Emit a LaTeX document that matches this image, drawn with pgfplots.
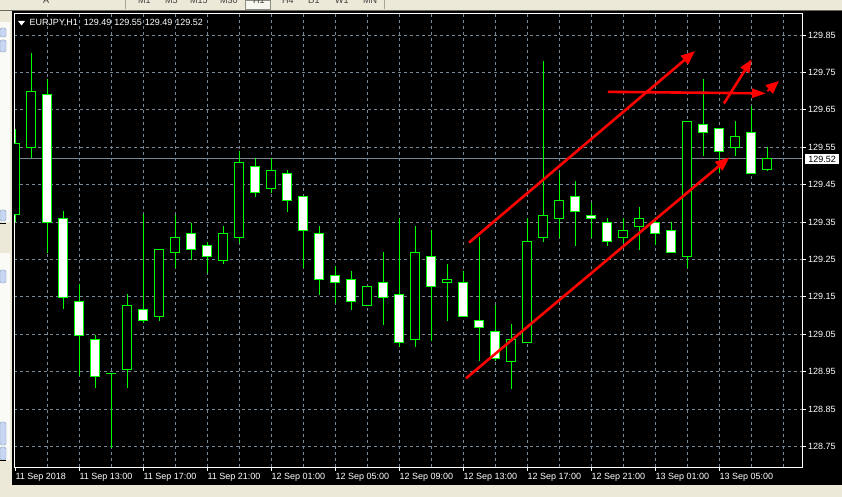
\documentclass[border=0pt]{standalone}
\usepackage{fontspec}
\setmainfont{Liberation Sans}
\usepackage{pgfplots}
\pgfplotsset{compat=1.18}
\usepackage{pgfplotstable}
\usetikzlibrary{arrows.meta}
\definecolor{lime}{RGB}{0,255,0}
\definecolor{gridc}{RGB}{119,136,153}
\definecolor{winbg}{RGB}{236,233,216}
\definecolor{panel}{RGB}{250,250,246}
\definecolor{btn}{RGB}{200,214,243}
\definecolor{btnb}{RGB}{127,157,185}

% bullish (and doji) candles: index open high low close
\pgfplotstableread{
i o h l c
0 129.369 129.600 129.350 129.560
1 129.550 129.803 129.520 129.698
6 128.945 128.947 128.747 128.945
7 128.956 129.157 128.905 129.127
9 129.097 129.277 129.086 129.277
10 129.268 129.369 129.226 129.309
13 129.247 129.339 129.237 129.320
14 129.309 129.540 129.295 129.510
16 129.440 129.520 129.428 129.487
22 129.127 129.178 129.127 129.178
25 129.036 129.339 129.017 129.269
27 129.189 129.238 129.086 129.197
31 128.977 129.077 128.903 129.036
32 129.027 129.360 129.027 129.298
33 129.308 129.780 129.297 129.368
34 129.360 129.480 129.306 129.408
38 129.309 129.360 129.293 129.327
39 129.337 129.391 129.275 129.360
42 129.258 129.619 129.226 129.619
45 129.550 129.620 129.527 129.579
47 129.490 129.550 129.488 129.520
}\bull

% bearish candles
\pgfplotstableread{
i o h l c
2 129.691 129.732 129.268 129.349
3 129.359 129.379 129.117 129.149
4 129.138 129.183 128.938 129.047
5 129.036 129.047 128.905 128.938
8 129.117 129.371 129.080 129.087
11 129.320 129.348 129.248 129.277
12 129.288 129.297 129.213 129.257
15 129.498 129.520 129.418 129.429
17 129.480 129.489 129.378 129.407
18 129.419 129.419 129.226 129.328
19 129.320 129.339 129.155 129.197
20 129.207 129.232 129.133 129.189
21 129.197 129.219 129.115 129.138
23 129.188 129.270 129.075 129.149
24 129.157 129.360 129.017 129.028
26 129.258 129.329 129.033 129.178
28 129.189 129.219 129.098 129.098
29 129.087 129.309 128.977 129.068
30 129.058 129.128 128.977 128.986
35 129.419 129.460 129.287 129.378
36 129.368 129.402 129.306 129.360
37 129.349 129.360 129.287 129.298
40 129.349 129.364 129.289 129.320
41 129.328 129.349 129.269 129.269
43 129.611 129.732 129.527 129.590
44 129.600 129.600 129.480 129.539
46 129.590 129.661 129.480 129.480
}\bear

\begin{document}
\begin{tikzpicture}
% window chrome (pixel (x,y) -> (x-14 pt, 467-y pt))
\fill[winbg] (-14pt,-30pt) rectangle (828pt,467pt);
\fill[black] (-2pt,-18pt) rectangle (828pt,456pt);
\fill[black!55!winbg] (-14pt,455.5pt) rectangle (828pt,457pt);
\fill[panel] (-14pt,245pt) rectangle (-4pt,445pt);
\fill[panel] (-14pt,7pt) rectangle (-4pt,214pt);
\foreach \ya/\yb in {430/439,415/427,246/257,184/197,22/45,7/20}{
  \filldraw[fill=btn,draw=btnb,rounded corners=1.5pt] (-14pt,\ya pt) rectangle (-8pt,\yb pt);}
\draw[black,line width=1pt] (-14pt,243pt) -- (-8pt,243pt);
\draw[black,line width=1pt] (-14pt,6pt) -- (-8pt,6pt);
\fill[white!60!winbg] (231pt,458pt) rectangle (256pt,467pt);
\draw[black!40!winbg] (231pt,458pt) rectangle (256pt,467pt);
\draw[black!30!winbg,line width=1pt] (111pt,458pt) -- (111pt,467pt);
\draw[black!30!winbg,line width=1pt] (370pt,458pt) -- (370pt,467pt);
\foreach \xx/\tt in {124/M1,151/M5,176/M15,206/M30,239/H1,268/H4,294/D1,321/W1,349/MN,29/A}{
  \node[anchor=base west,inner sep=0pt,text=black!75,font=\fontsize{9}{10}\selectfont] at (\xx pt,463.5pt) {\tt};}

\begin{axis}[
  at={(0,0)}, anchor=south west,
  scale only axis, width=788pt, height=453pt,
  xmin=-0.08125, xmax=49.169, ymin=128.6949, ymax=129.9062,
  axis background/.style={fill=black},
  axis line style={white, line width=1pt},
  xtick={0,4,...,44},
  xticklabels={11 Sep 2018,11 Sep 13:00,11 Sep 17:00,11 Sep 21:00,12 Sep 01:00,12 Sep 05:00,12 Sep 09:00,12 Sep 13:00,12 Sep 17:00,12 Sep 21:00,13 Sep 01:00,13 Sep 05:00},
  minor xtick={2,4,...,48},
  ytick={128.75,128.85,128.95,129.05,129.15,129.25,129.35,129.45,129.55,129.65,129.75,129.85},
  xtick pos=bottom, ytick pos=right, yticklabel pos=right,
  tick align=outside, major tick length=4pt, minor tick length=0pt,
  tick style={white, line width=0.8pt},
  xminorgrids=true, ymajorgrids=true, xmajorgrids=false,
  grid style={gridc, dash pattern=on 3pt off 3pt, line width=0.8pt},
  minor grid style={gridc, dash pattern=on 3pt off 3pt, line width=0.8pt},
  ticklabel style={text=white, font=\fontsize{9}{10}\selectfont},
  yticklabel style={anchor=west, inner sep=0pt, xshift=2pt,
    /pgf/number format/fixed, /pgf/number format/fixed zerofill,
    /pgf/number format/precision=2, /pgf/number format/assume math mode=true},
  xticklabel style={anchor=north west, inner sep=0pt, yshift=-2pt, xshift=0pt},
  clip mode=individual,
]
% current price line
\addplot[gridc, line width=1pt, forget plot] coordinates {(-1,129.52) (50,129.52)};
% wicks
\addplot[draw=none, mark=none, forget plot, error bars/.cd, y dir=both, y explicit, error mark=none,
  error bar style={draw=lime, line width=1pt}]
  table[x=i, y=o, y error plus expr=\thisrow{h}-\thisrow{o}, y error minus expr=\thisrow{o}-\thisrow{l}] {\bull};
\addplot[draw=none, mark=none, forget plot, error bars/.cd, y dir=both, y explicit, error mark=none,
  error bar style={draw=lime, line width=1pt}]
  table[x=i, y=o, y error plus expr=\thisrow{h}-\thisrow{o}, y error minus expr=\thisrow{o}-\thisrow{l}] {\bear};
% bodies: outline
\addplot[draw=none, mark=none, forget plot, error bars/.cd, y dir=plus, y explicit, error mark=none,
  error bar style={draw=lime, line width=10pt}]
  table[x=i, y expr=\thisrow{o}-0.00134, y error plus expr=\thisrow{c}-\thisrow{o}+0.00268] {\bull};
\addplot[draw=none, mark=none, forget plot, error bars/.cd, y dir=plus, y explicit, error mark=none,
  error bar style={draw=lime, line width=10pt}]
  table[x=i, y expr=\thisrow{c}-0.00134, y error plus expr=\thisrow{o}-\thisrow{c}+0.00268] {\bear};
% bodies: fill
\addplot[draw=none, mark=none, forget plot, error bars/.cd, y dir=plus, y explicit, error mark=none,
  error bar style={draw=black, line width=8pt}]
  table[x=i, y expr=\thisrow{o}+0.00134, y error plus expr={max(\thisrow{c}-\thisrow{o}-0.00268,0)}] {\bull};
\addplot[draw=none, mark=none, forget plot, error bars/.cd, y dir=plus, y explicit, error mark=none,
  error bar style={draw=white, line width=8pt}]
  table[x=i, y expr=\thisrow{c}+0.00134, y error plus expr={max(\thisrow{o}-\thisrow{c}-0.00268,0)}] {\bear};
% red hand-drawn arrows
\addplot[red, line width=2.6pt, -{Triangle[length=14pt,width=11pt]}, forget plot] coordinates {(28.36,129.295) (42.48,129.807)};
\addplot[red, line width=2.6pt, -{Triangle[length=14pt,width=11pt]}, forget plot] coordinates {(28.17,128.932) (44.63,129.523)};
\addplot[red, line width=2.6pt, -{Triangle[length=14pt,width=9pt]}, forget plot] coordinates {(37.03,129.698) (46.92,129.694)};
\addplot[red, line width=2.6pt, -{Triangle[length=13pt,width=10pt]}, forget plot] coordinates {(44.29,129.667) (46.03,129.785)};
\addplot[red, line width=2pt, -{Triangle[length=13pt,width=11pt]}, forget plot] coordinates {(47.00,129.700) (47.73,129.727)};
\end{axis}

% header
\fill[white] (4pt,446pt) -- (11pt,446pt) -- (7.5pt,441.5pt) -- cycle;
\node[anchor=base west, inner sep=0pt, text=white, font=\fontsize{9}{10}\selectfont] at (15.3pt,441pt)
  {EURJPY,H1\hspace{6pt}129.49\hspace{3pt}129.55\hspace{3pt}129.49\hspace{3pt}129.52};
% current price box
\node[fill=white, text=black, inner sep=0pt, minimum width=34pt, minimum height=10pt,
  font=\fontsize{9}{10}\selectfont] at (808pt,308pt) {129.52};
\pgfresetboundingbox
\useasboundingbox (-14pt,-30pt) rectangle (828pt,467pt);
\end{tikzpicture}
\end{document}
